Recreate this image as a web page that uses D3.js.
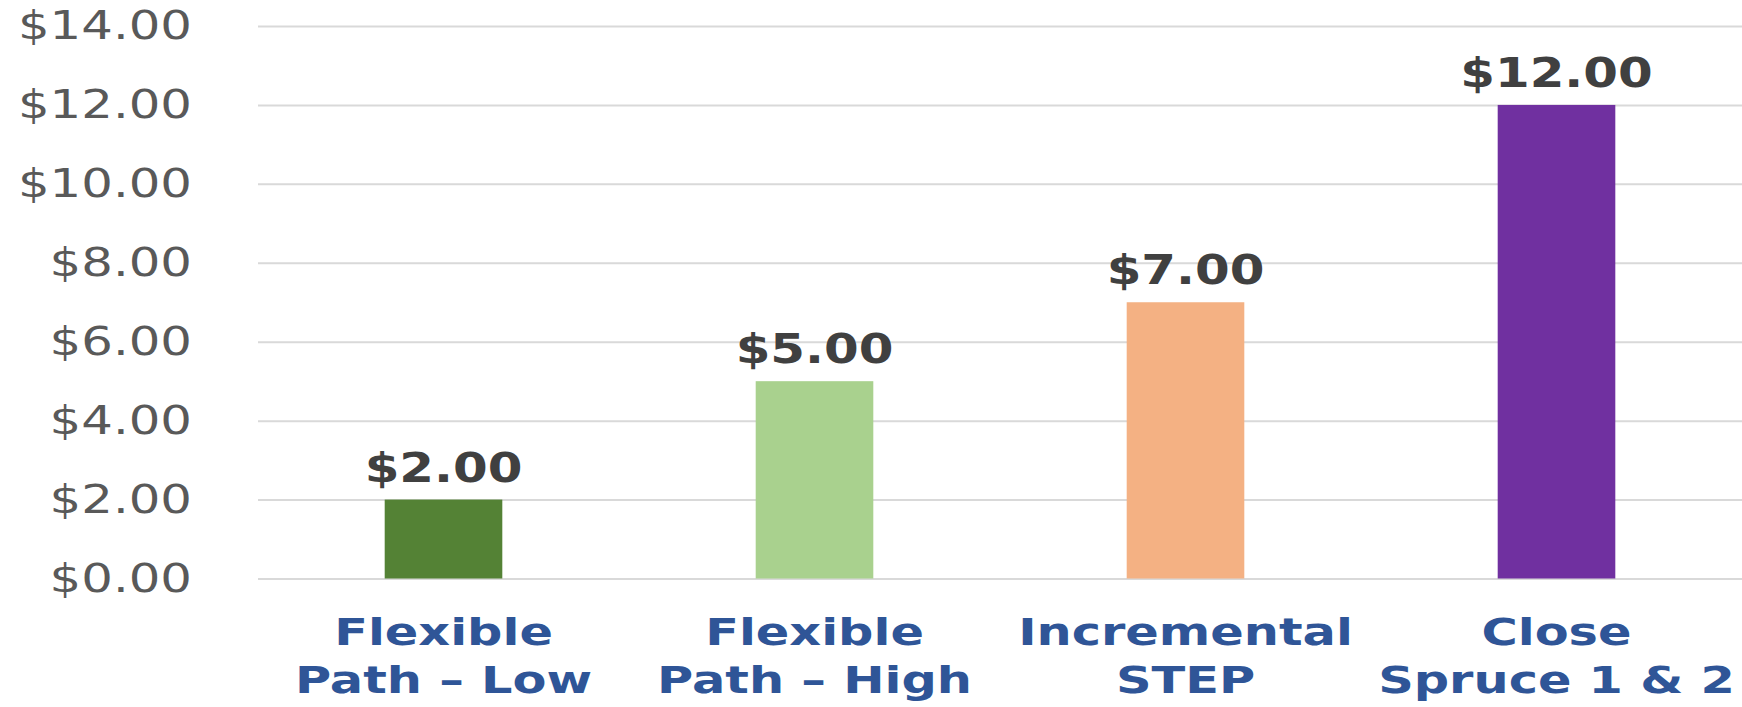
<!DOCTYPE html>
<html>
<head>
<meta charset="utf-8">
<script src="https://cdn.jsdelivr.net/npm/d3@7"></script>
<style>
  html, body { margin: 0; padding: 0; background: #fff; }
  svg { display: block; }
</style>
</head>
<body>
<svg id="chart" width="1742" height="707"></svg>
<script>
const categories = [["Flexible", "Path \u2013 Low"], ["Flexible", "Path \u2013 High"], ["Incremental", "STEP"], ["Close", "Spruce 1 & 2"]];
const values = [2, 5, 7, 12];
const barColors = ["#548235", "#A9D18E", "#F4B183", "#7030A0"];
const yTicks = [0, 2, 4, 6, 8, 10, 12, 14];

const W = 1742, H = 707;
const margin = { left: 258, right: 0, top: 26, bottom: 128 };
const sx = 1.28;
const svg = d3.select("#chart");

const x = d3.scaleBand()
  .domain(d3.range(values.length))
  .range([margin.left, W - margin.right])
  .paddingInner(0.683)
  .paddingOuter(0.3415);

const y = d3.scaleLinear()
  .domain([0, 14])
  .range([H - margin.bottom - 0.5, margin.top]);

const fmt = v => "$" + d3.format(".2f")(v);

// gridlines via axis
const grid = svg.append("g")
  .attr("transform", `translate(${margin.left},0)`)
  .call(d3.axisLeft(y).tickValues(yTicks).tickSize(-(W - margin.left - margin.right)).tickFormat(""));
grid.select(".domain").remove();
grid.selectAll(".tick line").attr("stroke", "#d9d9d9").attr("stroke-width", 2);

// y tick labels
svg.append("g").selectAll("text")
  .data(yTicks)
  .join("text")
  .attr("transform", d => `translate(192,${y(d) + 13}) scale(1.26,1)`)
  .attr("text-anchor", "end")
  .attr("font-family", "'DejaVu Sans', Verdana, sans-serif")
  .attr("font-size", 39.5)
  .attr("fill", "#595959")
  .text(fmt);

// bars
svg.append("g").selectAll("rect")
  .data(values)
  .join("rect")
  .attr("x", (d, i) => x(i))
  .attr("width", x.bandwidth())
  .attr("y", d => y(d))
  .attr("height", d => y(0) - y(d))
  .attr("fill", (d, i) => barColors[i]);

// data labels
svg.append("g").selectAll("text")
  .data(values)
  .join("text")
  .attr("transform", (d, i) => `translate(${x(i) + x.bandwidth() / 2},${y(d) - 18}) scale(${sx * 0.95},1)`)
  .attr("text-anchor", "middle")
  .attr("font-family", "'DejaVu Sans', Verdana, sans-serif")
  .attr("font-weight", "bold")
  .attr("font-size", 41)
  .attr("fill", "#404040")
  .text(fmt);

// category labels
const cat = svg.append("g").selectAll("g")
  .data(categories)
  .join("g")
  .attr("transform", (d, i) => `translate(${x(i) + x.bandwidth() / 2},${y(0)})`);
cat.selectAll("text")
  .data(d => d)
  .join("text")
  .attr("transform", (d, j) => `translate(0,${66 + j * 48}) scale(1.3,1)`)
  .attr("text-anchor", "middle")
  .attr("font-family", "'DejaVu Sans', Verdana, sans-serif")
  .attr("font-weight", "bold")
  .attr("font-size", 38)
  .attr("fill", "#2F5597")
  .text(d => d);
</script>
</body>
</html>
